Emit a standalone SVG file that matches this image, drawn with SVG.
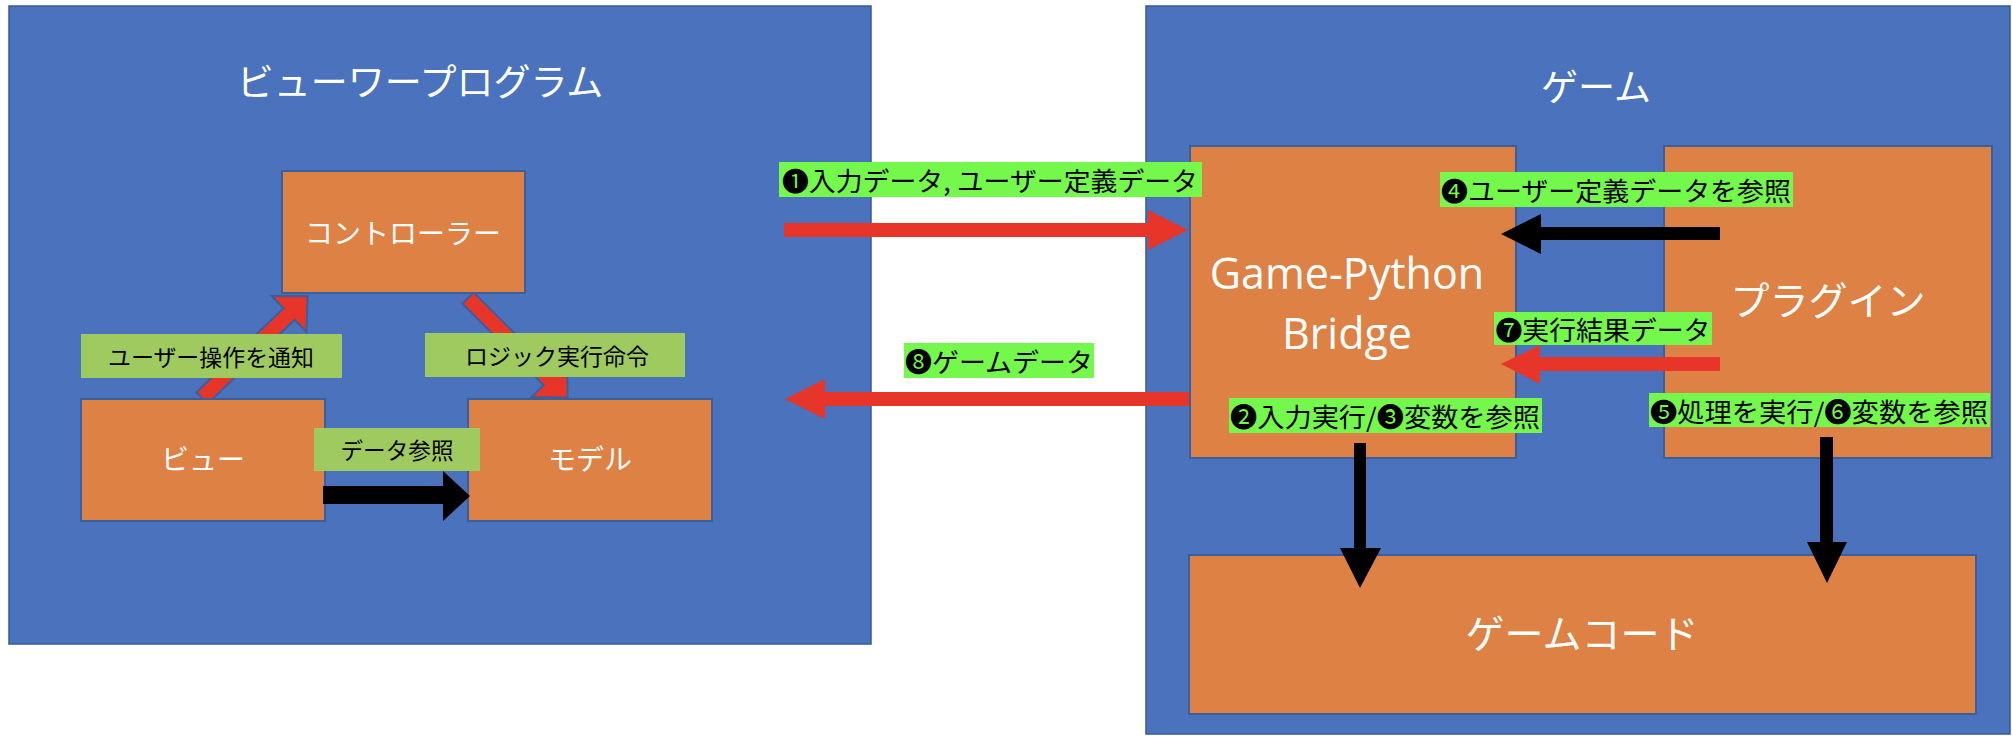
<svg xmlns="http://www.w3.org/2000/svg" width="2012" height="740" viewBox="0 0 2012 740">
  <style>
    .panel { fill: #4a72bd; stroke: #34589a; stroke-width: 1.5; }
    .node { fill: #de8145; stroke: #3b5f9c; stroke-width: 2; }
    .ntext { fill: #ffffff; font-family: 'Noto Sans CJK JP', sans-serif; text-anchor: middle; dominant-baseline: central; }
    .ltext { fill: #ffffff; font-family: 'Open Sans', 'Noto Sans CJK JP', sans-serif; text-anchor: middle; dominant-baseline: central; }
    .lab { fill: #9fca5f; }
    .blab { fill: #75f84c; }
    .tlab { fill: #000000; font-family: 'Noto Sans CJK JP', sans-serif; text-anchor: middle; dominant-baseline: central; }
    .red { fill: #e8352a; }
    .redo { fill: #e8352a; stroke: #3b5f9c; stroke-width: 2; stroke-linejoin: miter; }
    .blk { fill: #000000; }
  </style>
  <defs>
    <clipPath id="aboveBoxes">
      <rect x="0" y="0" width="900" height="399"/>
    </clipPath>
  </defs>
  <rect x="0" y="0" width="2012" height="740" fill="#ffffff"/>

  <g id="panel-viewer">
    <rect class="panel" x="9" y="6" width="862" height="638"/>
    <text class="ntext" x="420" y="80" font-size="37">ビューワープログラム</text>
  </g>
  <g id="panel-game">
    <rect class="panel" x="1146" y="6" width="864" height="728"/>
    <text class="ntext" x="1596" y="85" font-size="37">ゲーム</text>
  </g>

  <g id="connectors">
    <g clip-path="url(#aboveBoxes)">
      <path class="redo" transform="translate(202,398) rotate(-44)" d="M0,-8 H121 V-25 L147,0 L121,25 V8 H0 Z"/>
      <path class="redo" transform="translate(468,298) rotate(45)" d="M0,-8 H115 V-25 L141,0 L115,25 V8 H0 Z"/>
    </g>
  </g>

  <g id="node-controller">
    <rect class="node" x="282" y="171" width="243" height="122"/>
    <text class="ntext" x="403" y="232" font-size="28">コントローラー</text>
  </g>
  <g id="node-view">
    <rect class="node" x="81" y="399" width="244" height="122"/>
    <text class="ntext" x="203" y="458" font-size="28">ビュー</text>
  </g>
  <g id="node-model">
    <rect class="node" x="468" y="399" width="244" height="122"/>
    <text class="ntext" x="590" y="458" font-size="28">モデル</text>
  </g>
  <g id="node-bridge">
    <rect class="node" x="1190" y="146" width="326" height="312"/>
    <text class="ltext" x="1347" y="272" font-size="43">Game-Python</text>
    <text class="ltext" x="1347" y="332" font-size="43">Bridge</text>
  </g>
  <g id="node-plugin">
    <rect class="node" x="1664" y="146" width="328" height="312"/>
    <text class="ntext" x="1828" y="298" font-size="39">プラグイン</text>
  </g>
  <g id="node-gamecode">
    <rect class="node" x="1189" y="555" width="787" height="159"/>
    <text class="ntext" x="1582" y="631" font-size="39">ゲームコード</text>
  </g>

  <g id="arrows">
    <path class="blk" d="M323,486 H443 V471 L470,496 L443,521 V504 H323 Z"/>
    <path class="red" d="M784,223 H1148 V210 L1188,230 L1148,250 V237 H784 Z"/>
    <path class="red" d="M1189,392 H825 V379 L785,399 L825,419 V406 H1189 Z"/>
    <path class="blk" d="M1720,227 H1541 V214 L1501,234 L1541,254 V240 H1720 Z"/>
    <path class="red" d="M1720,357 H1540 V345 L1501,364 L1540,384 V371 H1720 Z"/>
    <path class="blk" d="M1354,443 H1366 V548 H1381 L1360,588 L1340,548 H1354 Z"/>
    <path class="blk" d="M1820,437 H1833 V542 H1847 L1827,583 L1807,542 H1820 Z"/>
  </g>

  <g id="labels">
    <rect class="lab" x="81" y="334" width="261" height="44"/>
    <text class="tlab" x="211" y="356" font-size="23" textLength="206" lengthAdjust="spacingAndGlyphs">ユーザー操作を通知</text>
    <rect class="lab" x="425" y="333" width="260" height="44"/>
    <text class="tlab" x="557" y="355" font-size="23" textLength="184" lengthAdjust="spacingAndGlyphs">ロジック実行命令</text>
    <rect class="lab" x="314" y="428" width="166" height="43"/>
    <text class="tlab" x="397" y="449" font-size="23" textLength="113" lengthAdjust="spacingAndGlyphs">データ参照</text>

    <rect class="blab" x="779" y="162" width="423" height="35"/>
    <text class="tlab" x="990" y="179" font-size="26" textLength="416" lengthAdjust="spacingAndGlyphs">❶入力データ, ユーザー定義データ</text>
    <rect class="blab" x="904" y="343" width="190" height="35"/>
    <text class="tlab" x="999" y="360" font-size="26" textLength="188" lengthAdjust="spacingAndGlyphs">❽ゲームデータ</text>
    <rect class="blab" x="1440" y="172" width="353" height="35"/>
    <text class="tlab" x="1616" y="189" font-size="26" textLength="350" lengthAdjust="spacingAndGlyphs">❹ユーザー定義データを参照</text>
    <rect class="blab" x="1494" y="312" width="218" height="33"/>
    <text class="tlab" x="1603" y="328" font-size="26" textLength="215" lengthAdjust="spacingAndGlyphs">❼実行結果データ</text>
    <rect class="blab" x="1229" y="398" width="313" height="35"/>
    <text class="tlab" x="1385" y="415" font-size="26" textLength="310" lengthAdjust="spacingAndGlyphs">❷入力実行/❸変数を参照</text>
    <rect class="blab" x="1649" y="393" width="341" height="34"/>
    <text class="tlab" x="1819" y="410" font-size="26" textLength="338" lengthAdjust="spacingAndGlyphs">❺処理を実行/❻変数を参照</text>
  </g>
</svg>
